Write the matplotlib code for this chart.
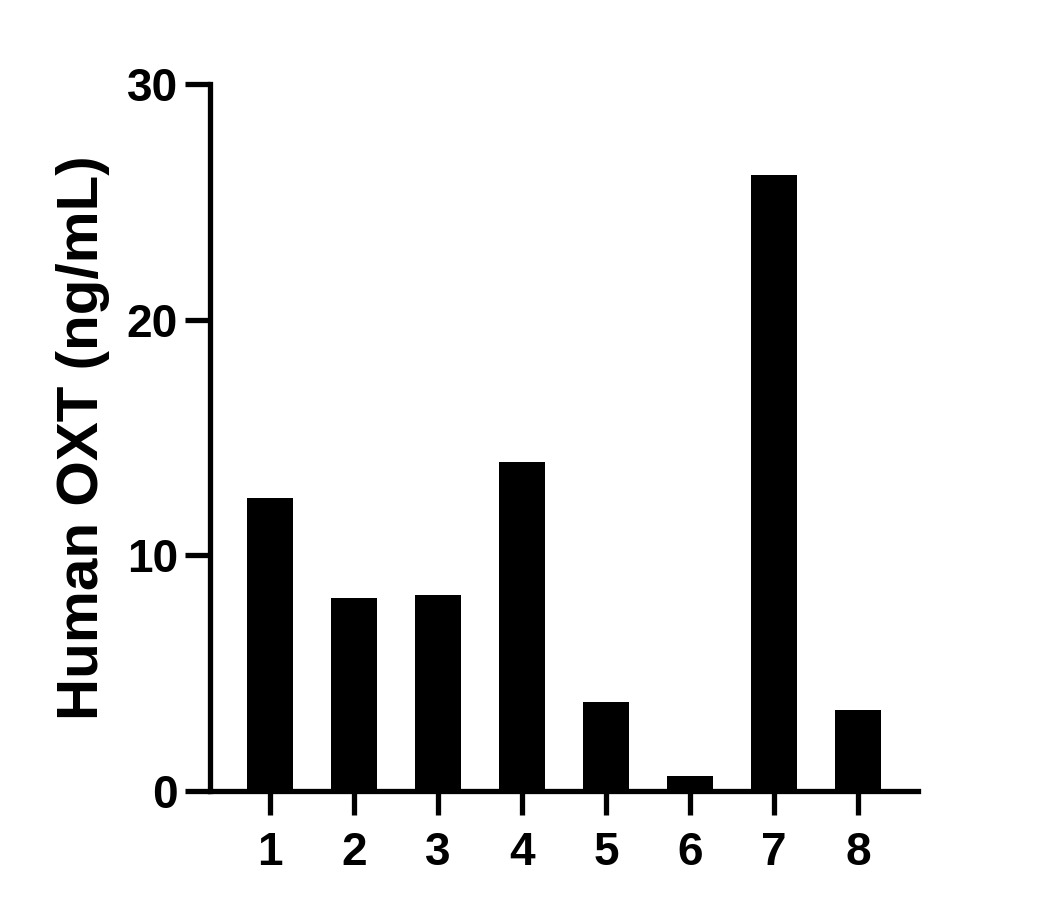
import matplotlib
matplotlib.use('Agg')
import matplotlib.pyplot as plt

samples = ['1', '2', '3', '4', '5', '6', '7', '8']
oxt = [12.43, 8.19, 8.32, 13.96, 3.78, 0.64, 26.13, 3.44]

plt.rcParams['font.family'] = ['Liberation Sans', 'DejaVu Sans']
plt.rcParams['font.weight'] = 'bold'

fig = plt.figure(figsize=(10.52, 9.09), dpi=100)
ax = fig.add_axes([0.1996, 0.1298, 0.6730, 0.7778])

x = range(1, len(samples) + 1)
ax.bar(x, oxt, width=0.55, color='black')

ax.set_xlim(0.286, 8.714)
ax.set_ylim(0, 30)
ax.set_yticks([0, 10, 20, 30])
ax.set_xticks(list(x))
ax.set_xticklabels(samples)

for s in ['top', 'right']:
    ax.spines[s].set_visible(False)
for s in ['left', 'bottom']:
    ax.spines[s].set_linewidth(3.8)

ax.tick_params(axis='y', length=18, width=3.8, labelsize=33, pad=5)
ax.tick_params(axis='x', length=17, width=3.8, labelsize=33, pad=12)
for lab in ax.get_xticklabels() + ax.get_yticklabels():
    lab.set_fontweight('bold')

ax.set_ylabel('Human OXT (ng/mL)', fontsize=42, fontweight='bold', labelpad=12)

fig.savefig('out.png', dpi=100)
